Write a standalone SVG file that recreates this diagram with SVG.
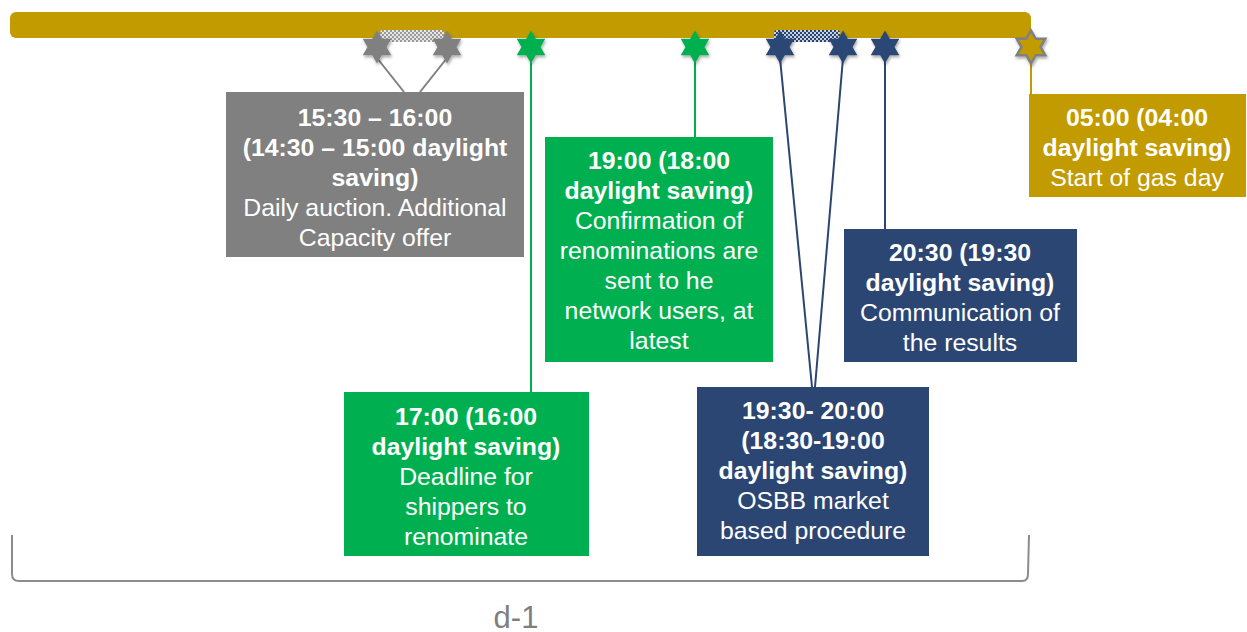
<svg xmlns="http://www.w3.org/2000/svg" width="1247" height="632" viewBox="0 0 1247 632">
<style>
.t{font-family:"Liberation Sans",Arial,sans-serif;font-size:24.8px;fill:#fff;text-anchor:middle}
.b{font-weight:bold}
.grey{fill:#808080}
.green{fill:#00B050}
.navy{fill:#2C4674}
.gold{fill:#C29B00}
.lg{stroke:#808080;stroke-width:2;fill:none}
.lgr{stroke:#00B050;stroke-width:2;fill:none}
.ln{stroke:#2C4674;stroke-width:2;fill:none}
.lgo{stroke:#C29B00;stroke-width:2;fill:none}
</style>
<defs>
<polygon id="star" points="0,-16.5 4.76,-8.25 14.3,-8.25 9.53,0 14.3,8.25 4.76,8.25 0,16.5 -4.76,8.25 -14.3,8.25 -9.53,0 -14.3,-8.25 -4.76,-8.25"/>
<pattern id="hg" width="4" height="4" patternUnits="userSpaceOnUse">
<rect width="4" height="4" fill="#e6e6e6"/><rect width="2" height="2" fill="#9a9a9a"/><rect x="2" y="2" width="2" height="2" fill="#9a9a9a"/>
</pattern>
<pattern id="hn" width="4" height="4" patternUnits="userSpaceOnUse">
<rect width="4" height="4" fill="#c8d0e0"/><rect width="2" height="2" fill="#2C4674"/><rect x="2" y="2" width="2" height="2" fill="#2C4674"/>
</pattern>
<filter id="sh" x="-50%" y="-50%" width="200%" height="200%"><feDropShadow dx="1" dy="2" stdDeviation="1.5" flood-opacity="0.35"/></filter>
</defs>
<g id="timeline">
<rect x="10" y="12" width="1021" height="26" rx="6" class="gold"/>
<rect x="380" y="30" width="64" height="12" rx="3" fill="url(#hg)"/>
<rect x="774" y="30" width="66" height="12" rx="3" fill="url(#hn)"/>
</g>
<g id="connectors">
<line x1="377" y1="58" x2="404" y2="92" class="lg"/>
<line x1="447" y1="58" x2="420" y2="92" class="lg"/>
<line x1="531" y1="58" x2="531" y2="392" class="lgr"/>
<line x1="695" y1="58" x2="695" y2="137" class="lgr"/>
<line x1="780" y1="58" x2="812" y2="387" class="ln"/>
<line x1="843" y1="58" x2="815" y2="387" class="ln"/>
<line x1="885" y1="58" x2="885" y2="229" class="ln"/>
<line x1="1031" y1="58" x2="1031" y2="94" class="lgo"/>
</g>
<g id="stars" filter="url(#sh)">
<use href="#star" x="377" y="47" class="grey"/>
<use href="#star" x="447" y="47" class="grey"/>
<use href="#star" x="531" y="47" class="green"/>
<use href="#star" x="695" y="47" class="green"/>
<use href="#star" x="780" y="47" class="navy"/>
<use href="#star" x="843" y="47" class="navy"/>
<use href="#star" x="885" y="47" class="navy"/>
<use href="#star" x="1031" y="47" class="gold" stroke="#808080" stroke-width="2.5"/>
</g>
<g id="auction">
<rect x="226" y="92" width="298" height="165" class="grey"/>
<text class="t b" x="375" y="126">15:30 – 16:00</text>
<text class="t b" x="375" y="156">(14:30 – 15:00 daylight</text>
<text class="t b" x="375" y="186">saving)</text>
<text class="t" x="375" y="216">Daily auction. Additional</text>
<text class="t" x="375" y="246">Capacity offer</text>
</g>
<g id="confirmation">
<rect x="545" y="137" width="228" height="225" class="green"/>
<text class="t b" x="659" y="169">19:00 (18:00</text>
<text class="t b" x="659" y="199">daylight saving)</text>
<text class="t" x="659" y="229">Confirmation of</text>
<text class="t" x="659" y="259">renominations are</text>
<text class="t" x="659" y="289">sent to he</text>
<text class="t" x="659" y="319">network users, at</text>
<text class="t" x="659" y="349">latest</text>
</g>
<g id="deadline">
<rect x="344" y="392" width="245" height="164" class="green"/>
<text class="t b" x="466" y="425">17:00 (16:00</text>
<text class="t b" x="466" y="455">daylight saving)</text>
<text class="t" x="466" y="485">Deadline for</text>
<text class="t" x="466" y="515">shippers to</text>
<text class="t" x="466" y="545">renominate</text>
</g>
<g id="communication">
<rect x="844" y="229" width="233" height="133" class="navy"/>
<text class="t b" x="960" y="261">20:30 (19:30</text>
<text class="t b" x="960" y="291">daylight saving)</text>
<text class="t" x="960" y="321">Communication of</text>
<text class="t" x="960" y="351">the results</text>
</g>
<g id="osbb">
<rect x="697" y="387" width="232" height="169" class="navy"/>
<text class="t b" x="813" y="419">19:30- 20:00</text>
<text class="t b" x="813" y="449">(18:30-19:00</text>
<text class="t b" x="813" y="479">daylight saving)</text>
<text class="t" x="813" y="509">OSBB market</text>
<text class="t" x="813" y="539">based procedure</text>
</g>
<g id="gasday">
<rect x="1029" y="94" width="217" height="103" class="gold"/>
<text class="t b" x="1137" y="126">05:00 (04:00</text>
<text class="t b" x="1137" y="156">daylight saving)</text>
<text class="t" x="1137" y="186">Start of gas day</text>
</g>
<g id="brace">
<path d="M12,535 L12,574 Q12,581 19,581 L1022,581 Q1028,581 1028,574 L1029,535" fill="none" stroke="#8c8c8c" stroke-width="2"/>
<text x="516" y="628" font-family="Liberation Sans,Arial,sans-serif" font-size="31" fill="#7f7f7f" text-anchor="middle">d-1</text>
</g>
</svg>
